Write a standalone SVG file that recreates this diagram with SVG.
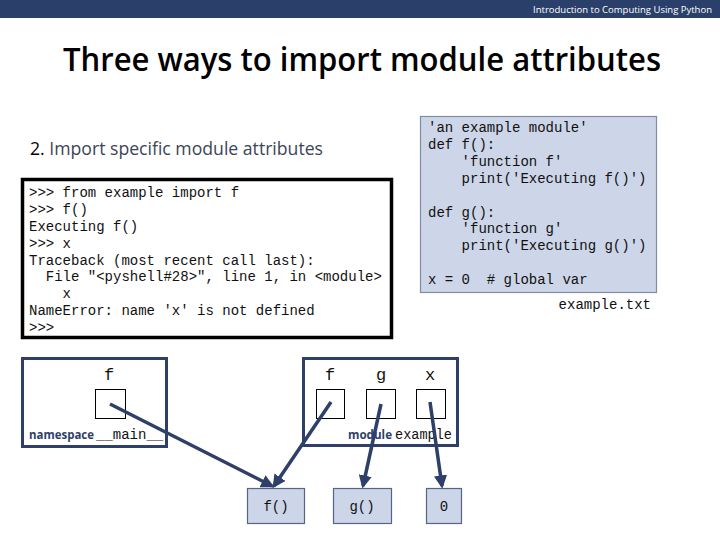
<svg xmlns="http://www.w3.org/2000/svg" width="720" height="540" viewBox="0 0 720 540">
<style>
.mono{font-family:"Liberation Mono","Courier New",monospace;font-size:14px;fill:#111}
.big{font-size:17px}
.sans{font-family:"Open Sans","Liberation Sans",sans-serif}
.ns{fill:#fff;stroke:#2e3f6a;stroke-width:3}
.slot{fill:#fff;stroke:#000;stroke-width:1}
.obj{fill:#cdd5e8;stroke:#556585;stroke-width:1.2}
.conn{stroke:#2e3f6a;stroke-width:3.5;fill:none;marker-end:url(#ah)}
.lbl{font-family:"Open Sans","Liberation Sans",sans-serif;font-weight:bold;font-size:12px;fill:#2e3f6a}
</style>
<defs>
<marker id="ah" viewBox="0 0 10 10" refX="8" refY="5" markerWidth="3.8" markerHeight="3.8" orient="auto" markerUnits="strokeWidth">
<path d="M0,0 L10,5 L0,10 z" fill="#2e3f6a"/>
</marker>
</defs>
<rect x="0" y="0" width="720" height="18" fill="#2b3f6b"/>
<text x="712" y="13" text-anchor="end" class="sans" font-size="9.5" fill="#fff">Introduction to Computing Using Python</text>
<text x="362" y="71" text-anchor="middle" class="sans" font-size="32" font-weight="600" fill="#000" textLength="598" lengthAdjust="spacingAndGlyphs">Three ways to import module attributes</text>
<text x="30" y="155" class="sans" font-size="18" fill="#3b4558" textLength="293" lengthAdjust="spacingAndGlyphs"><tspan fill="#000">2.</tspan>  Import specific module attributes</text>

<g id="shell">
<rect x="22.5" y="179.5" width="369" height="158" fill="#fff" stroke="#000" stroke-width="3.5"/>
<text class="mono" xml:space="preserve">
<tspan x="29" y="197">&gt;&gt;&gt; from example import f</tspan>
<tspan x="29" y="214">&gt;&gt;&gt; f()</tspan>
<tspan x="29" y="231">Executing f()</tspan>
<tspan x="29" y="248">&gt;&gt;&gt; x</tspan>
<tspan x="29" y="265">Traceback (most recent call last):</tspan>
<tspan x="29" y="281">  File "&lt;pyshell#28&gt;", line 1, in &lt;module&gt;</tspan>
<tspan x="29" y="298">    x</tspan>
<tspan x="29" y="315">NameError: name 'x' is not defined</tspan>
<tspan x="29" y="332">&gt;&gt;&gt;</tspan>
</text>
</g>

<g id="source">
<rect x="420.5" y="116.5" width="236" height="176" fill="#cdd5e8" stroke="#7f8ca3" stroke-width="1.2"/>
<text class="mono" xml:space="preserve">
<tspan x="428" y="132">'an example module'</tspan>
<tspan x="428" y="149">def f():</tspan>
<tspan x="428" y="166">    'function f'</tspan>
<tspan x="428" y="183">    print('Executing f()')</tspan>
<tspan x="428" y="217">def g():</tspan>
<tspan x="428" y="233">    'function g'</tspan>
<tspan x="428" y="250">    print('Executing g()')</tspan>
<tspan x="428" y="284">x = 0  # global var</tspan>
</text>
<text x="651" y="309" text-anchor="end" class="mono">example.txt</text>
</g>

<g id="ns_main">
<rect class="ns" x="22.5" y="358.5" width="144" height="88"/>
<text x="109" y="380" text-anchor="middle" class="mono big">f</text>
<rect class="slot" x="95.5" y="389.5" width="30" height="29"/>
<text x="29" y="439" class="lbl" textLength="65" lengthAdjust="spacingAndGlyphs">namespace</text>
<text x="96" y="439" class="mono">__main__</text>
</g>

<g id="ns_example">
<rect class="ns" x="303.5" y="358.5" width="154" height="87"/>
<text x="330" y="380" text-anchor="middle" class="mono big">f</text>
<text x="381" y="380" text-anchor="middle" class="mono big">g</text>
<text x="430" y="380" text-anchor="middle" class="mono big">x</text>
<rect class="slot" x="316.5" y="389.5" width="28" height="29"/>
<rect class="slot" x="366.5" y="389.5" width="29" height="29"/>
<rect class="slot" x="416.5" y="389.5" width="29" height="29"/>
<text x="348" y="439" class="lbl" textLength="44" lengthAdjust="spacingAndGlyphs">module</text>
<text x="395" y="439" class="mono" textLength="57" lengthAdjust="spacingAndGlyphs">example</text>
</g>

<g id="obj_f">
<rect class="obj" x="247.5" y="488.5" width="57" height="35"/>
<text x="276" y="511" text-anchor="middle" class="mono">f()</text>
</g>
<g id="obj_g">
<rect class="obj" x="333.5" y="488.5" width="58" height="35"/>
<text x="362" y="511" text-anchor="middle" class="mono">g()</text>
</g>
<g id="obj_0">
<rect class="obj" x="426.5" y="488.5" width="35" height="35"/>
<text x="444" y="511" text-anchor="middle" class="mono">0</text>
</g>

<g id="connectors">
<line class="conn" x1="110" y1="404" x2="272" y2="486"/>
<line class="conn" x1="331" y1="402" x2="274" y2="486"/>
<line class="conn" x1="381" y1="404" x2="363" y2="486"/>
<line class="conn" x1="430" y1="402" x2="442" y2="486"/>
</g>
</svg>
